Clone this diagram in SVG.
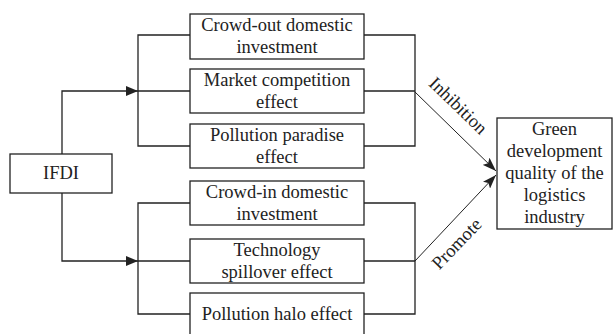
<svg xmlns="http://www.w3.org/2000/svg" width="613" height="334" viewBox="0 0 613 334">
<style>
.box{fill:#fff;stroke:#222;stroke-width:1.3}
.ln{fill:none;stroke:#222;stroke-width:1.3}
.dg{fill:none;stroke:#222;stroke-width:1}
text{font-family:"Liberation Serif","Times New Roman",serif;font-size:18.5px;fill:#222;text-anchor:middle}
</style>
<defs>
<marker id="ah" viewBox="0 0 12 10" refX="12" refY="5" markerWidth="12" markerHeight="10" markerUnits="userSpaceOnUse" orient="auto">
<path d="M0,0 L12,5 L0,10 Z" fill="#222"/>
</marker>
<marker id="ah2" viewBox="0 0 14 10" refX="14" refY="5" markerWidth="14" markerHeight="10" markerUnits="userSpaceOnUse" orient="auto">
<path d="M0,0 L14,5 L0,10 L3,5 Z" fill="#222"/>
</marker>
</defs>
<rect width="613" height="334" fill="#fff"/>
<g id="connectors">
<path class="ln" d="M62,154 V91 H138" marker-end="url(#ah)"/>
<path class="ln" d="M62,193 V261 H138" marker-end="url(#ah)"/>
<path class="ln" d="M190,35 H138 V146 H190 M138,91 H190"/>
<path class="ln" d="M364,35 H415 V146 H364 M364,91 H415"/>
<path class="ln" d="M190,203 H138 V314 H190 M138,261 H190"/>
<path class="ln" d="M364,203 H415 V314 H364 M364,261 H415"/>
<line class="dg" x1="415" y1="92" x2="496" y2="171" marker-end="url(#ah2)"/>
<line class="dg" x1="415" y1="261" x2="496" y2="175" marker-end="url(#ah2)"/>
<text transform="translate(454,110) rotate(44)">Inhibition</text>
<text transform="translate(461,248) rotate(-46)">Promote</text>
</g>
<g id="ifdi">
<rect class="box" x="10" y="154" width="102" height="39"/>
<text x="61" y="179">IFDI</text>
</g>
<g id="crowd-out">
<rect class="box" x="190" y="14" width="174" height="45"/>
<text x="277" y="31">Crowd-out domestic</text>
<text x="277" y="53">investment</text>
</g>
<g id="market">
<rect class="box" x="190" y="69" width="174" height="44"/>
<text x="277" y="86">Market competition</text>
<text x="277" y="108">effect</text>
</g>
<g id="paradise">
<rect class="box" x="190" y="124" width="174" height="44"/>
<text x="277" y="141">Pollution paradise</text>
<text x="277" y="163">effect</text>
</g>
<g id="crowd-in">
<rect class="box" x="190" y="181" width="174" height="44"/>
<text x="277" y="198">Crowd-in domestic</text>
<text x="277" y="220">investment</text>
</g>
<g id="technology">
<rect class="box" x="190" y="239" width="174" height="44"/>
<text x="277" y="256">Technology</text>
<text x="277" y="278">spillover effect</text>
</g>
<g id="halo">
<rect class="box" x="190" y="293" width="174" height="50"/>
<text x="277" y="320">Pollution halo effect</text>
</g>
<g id="green">
<rect class="box" x="497" y="118" width="115" height="111"/>
<text x="554.5" y="135">Green</text>
<text x="554.5" y="157">development</text>
<text x="554.5" y="179">quality of the</text>
<text x="554.5" y="201">logistics</text>
<text x="554.5" y="223">industry</text>
</g>
</svg>
